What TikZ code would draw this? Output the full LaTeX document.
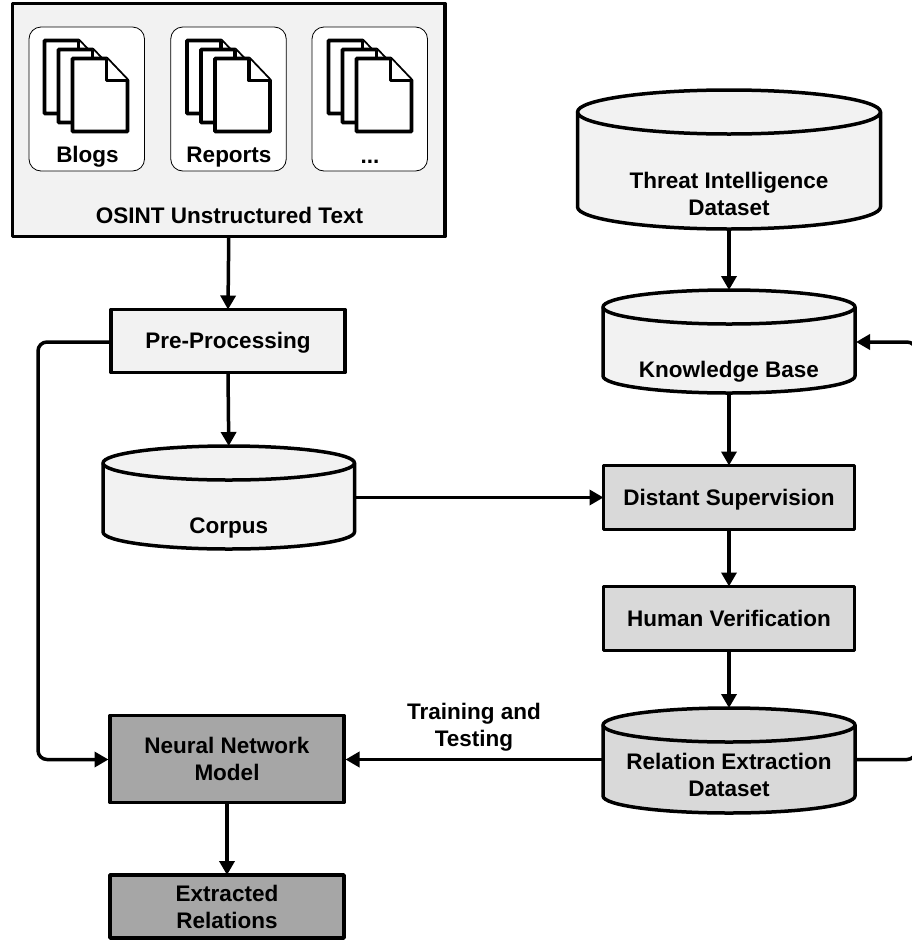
\documentclass[tikz,border=0pt]{standalone}
\usepackage{fontspec}
\setmainfont{Liberation Sans}
\usetikzlibrary{arrows.meta}
\definecolor{boxlight}{HTML}{F2F2F2}
\definecolor{boxmid}{HTML}{D9D9D9}
\definecolor{boxdark}{HTML}{A6A6A6}
\newcommand{\st}{\rule[-4pt]{0pt}{24pt}}
\tikzset{
  x=1pt,y=-1pt,
  every node/.style={font=\fontsize{22.5}{27}\selectfont\bfseries,align=center,inner sep=0pt,outer sep=0pt},
  boxnode/.style={draw=black,line width=3.5pt,line join=round,rectangle},
  light/.style={fill=boxlight},
  mid/.style={fill=boxmid},
  dark/.style={fill=boxdark},
  cylline/.style={draw=black,line width=3.5pt,line join=round},
  link/.style={draw=black,line width=3.5pt,rounded corners=9pt,-{Triangle[length=14pt,width=15pt]}},
  srcbox/.style={draw=black,line width=0.8pt,fill=white,rounded corners=12pt,rectangle,minimum width=115.5pt,minimum height=144pt},
  sheet/.style={draw=black,line width=3.8pt,line join=round,fill=white},
}
% name, left, right, ellipse centre y, side end y, ry, fill, text centre y, text
\newcommand{\cylnode}[9]{%
  \pgfmathsetmacro{\crx}{(#3-#2)/2}%
  \pgfmathsetmacro{\ccx}{(#3+#2)/2}%
  \pgfmathsetmacro{\ctop}{#4-#6}%
  \pgfmathsetmacro{\cbot}{#5+#6}%
  \path[cylline,fill=#7] (#2,#4) -- (#2,#5)
     .. controls (#2,#5+0.55*#6) and (\ccx-0.55*\crx,\cbot) .. (\ccx,\cbot)
     .. controls (\ccx+0.55*\crx,\cbot) and (#3,#5+0.55*#6) .. (#3,#5)
     -- (#3,#4)
     .. controls (#3,#4-0.55*#6) and (\ccx+0.55*\crx,\ctop) .. (\ccx,\ctop)
     .. controls (\ccx-0.55*\crx,\ctop) and (#2,#4-0.55*#6) .. (#2,#4) -- cycle;
  \path[cylline] (#2,#4)
     .. controls (#2,#4+0.55*#6) and (\ccx-0.55*\crx,#4+#6) .. (\ccx,#4+#6)
     .. controls (\ccx+0.55*\crx,#4+#6) and (#3,#4+0.55*#6) .. (#3,#4);
  \coordinate (#1-n) at (\ccx,\ctop);
  \coordinate (#1-s) at (\ccx,\cbot);
  \node (#1) at (\ccx,#8) {#9};
}
\newcommand{\sheetat}[2]{%
  \path[sheet] (#1,#2) -- (#1+34,#2) -- (#1+55,#2+22) -- (#1+55,#2+73) -- (#1,#2+73) -- cycle;
  \path[sheet] (#1+34,#2) -- (#1+34,#2+22) -- (#1+55,#2+22);
}
\newcommand{\stack}[2]{\sheetat{#1}{#2}\sheetat{#1+14}{#2+9}\sheetat{#1+28}{#2+18}}
\begin{document}
\begin{tikzpicture}
\useasboundingbox (0,0) rectangle (912,940);
\clip (0,0) rectangle (912,940);
\node[boxnode,light,minimum width=432.5pt,minimum height=233pt] (osint) at (228.75,120) {};
\node[srcbox] (b1) at (86.75,99) {};
\node[srcbox] (b2) at (228.5,99) {};
\node[srcbox] (b3) at (369.75,99) {};
\stack{44.5}{40.5}\stack{187}{40.5}\stack{328.5}{40.5}
\node (t1) at (87.5,155) {\st Blogs\st};
\node (t2) at (229,155) {\st Reports\st};
\node (t3) at (370,155) {\st ...\st};
\node (t4) at (229.5,215) {\st OSINT Unstructured Text\st};

\node[boxnode,light,minimum width=234pt,minimum height=63pt] (pre) at (228,341) {\st Pre-Processing\st};
\cylnode{corpus}{103}{354.5}{463}{532}{17}{boxlight}{526}{\st Corpus\st}
\cylnode{ti}{577.5}{880.5}{112}{207}{22}{boxlight}{193.5}{\st Threat Intelligence\\Dataset\st}
\cylnode{kb}{603}{855}{307}{376}{17}{boxlight}{370}{\st Knowledge Base\st}
\node[boxnode,mid,minimum width=251pt,minimum height=64pt] (ds) at (729,497.5) {\st Distant Supervision\st};
\node[boxnode,mid,minimum width=251pt,minimum height=64pt] (hv) at (729,618.5) {\st Human Verification\st};
\cylnode{re}{603}{855}{725}{796}{17}{boxmid}{774.5}{\st Relation Extraction\\Dataset\st}
\node[boxnode,dark,minimum width=234pt,minimum height=87pt] (nn) at (227,759) {\st Neural Network\\Model\st};
\node[boxnode,dark,minimum width=234pt,minimum height=63pt] (er) at (227,906.5) {\st Extracted\\Relations\st};
\node (tt) at (474,725.5) {\st Training and\\Testing\st};

\coordinate (loopa) at (38,342);
\coordinate (loopb) at (38,759.5);
\coordinate (loopc) at (916,759.5);
\coordinate (loopd) at (916,342);
\coordinate (reout) at (855,759.5);
\coordinate (rein) at (603,759.5);
\coordinate (kbin) at (856,342);
\coordinate (corpout) at (355,497.5);
\coordinate (nnl) at (108.5,759.5);
\coordinate (nnr) at (345.5,759.5);
\coordinate (prew) at (111,342);
\draw[link] (osint.south) -- (pre.north);
\draw[link] (pre.south) -- (corpus-n);
\draw[link] (prew) -- (loopa) -- (loopb) -- (nnl);
\draw[link] (ti-s) -- (kb-n);
\draw[link] (kb-s) -- (ds.north);
\draw[link] (ds.south) -- (hv.north);
\draw[link] (hv.south) -- (re-n);
\draw[link] (nn.south) -- (er.north);
\draw[link] (rein) -- (nnr);
\draw[link] (corpout) -- (ds.west);
\draw[link] (reout) -- (loopc) -- (loopd) -- (kbin);
\end{tikzpicture}
\end{document}
